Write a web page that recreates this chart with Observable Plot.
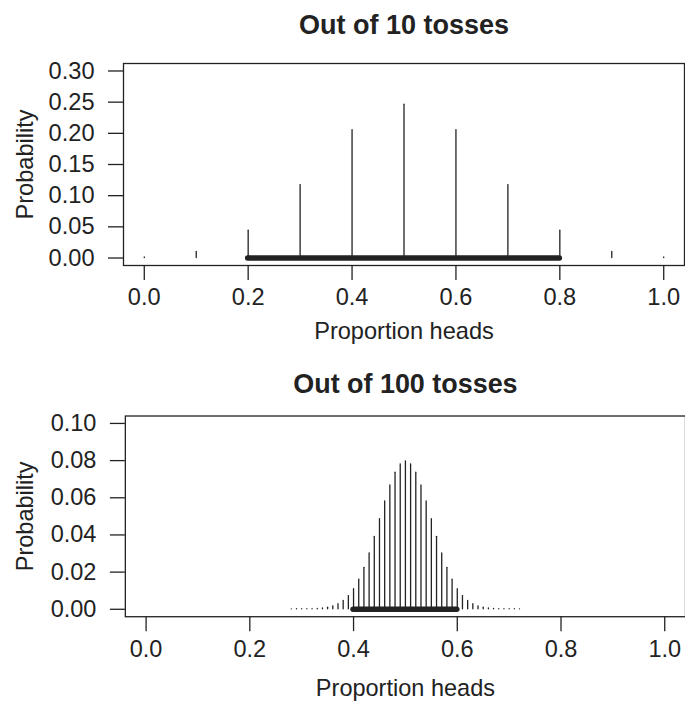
<!DOCTYPE html>
<html>
<head>
<meta charset="utf-8">
<script src="https://cdn.jsdelivr.net/npm/d3@7"></script>
<script src="https://cdn.jsdelivr.net/npm/@observablehq/plot@0.6"></script>
<style>
  html, body { margin: 0; padding: 0; background: #fff; }
  #wrap { position: relative; width: 685px; height: 702px; overflow: hidden; }
  #wrap svg { display: block; }
</style>
</head>
<body>
<div id="wrap"></div>
<script>
// ---- data ----
const title10 = "Out of 10 tosses";
const title100 = "Out of 100 tosses";
const xLabel = "Proportion heads";
const yLabel = "Probability";

const props10 = [0.0, 0.1, 0.2, 0.3, 0.4, 0.5, 0.6, 0.7, 0.8, 0.9, 1.0];
const probs10 = [0.00098, 0.0098, 0.0439, 0.117, 0.205, 0.246, 0.205, 0.117, 0.0439, 0.0098, 0.00098];
const interval10 = [0.2, 0.8];

const props100 = [0.28, 0.29, 0.30, 0.31, 0.32, 0.33, 0.34, 0.35, 0.36, 0.37, 0.38, 0.39,
  0.40, 0.41, 0.42, 0.43, 0.44, 0.45, 0.46, 0.47, 0.48, 0.49, 0.50, 0.51, 0.52, 0.53,
  0.54, 0.55, 0.56, 0.57, 0.58, 0.59, 0.60, 0.61, 0.62, 0.63, 0.64, 0.65, 0.66, 0.67,
  0.68, 0.69, 0.70, 0.71, 0.72];
const probs100 = [0.000004, 0.00001, 0.000023, 0.000054, 0.000116, 0.000237, 0.00046, 0.00087,
  0.00157, 0.0027, 0.00448, 0.00711, 0.0108, 0.0159, 0.0223, 0.0301, 0.039, 0.0485, 0.058,
  0.0666, 0.0735, 0.078, 0.0796, 0.078, 0.0735, 0.0666, 0.058, 0.0485, 0.039, 0.0301, 0.0223,
  0.0159, 0.0108, 0.00711, 0.00448, 0.0027, 0.00157, 0.00087, 0.00046, 0.000237, 0.000116,
  0.000054, 0.000023, 0.00001, 0.000004];
const interval100 = [0.4, 0.6];

const xTicks = [0, 0.2, 0.4, 0.6, 0.8, 1.0];
const yTicks10 = [0, 0.05, 0.10, 0.15, 0.20, 0.25, 0.30];
const yTicks100 = [0, 0.02, 0.04, 0.06, 0.08, 0.10];

// ---- styling ----
const INK = "#222";
const FONT = "'Liberation Sans', Arial, Helvetica, sans-serif";
const TITLE_FONT = "'Liberation Sans Narrow', 'Liberation Sans', Arial, sans-serif";

function panel({props, probs, interval, title, yTicks, yDomain, width, height,
                marginTop, marginBottom, marginLeft, marginRight,
                titleDy, xLabelOffset, yLabelOffset, tickPadX}) {
  const rows = props.map((p, i) => ({x: p, y: probs[i]}));
  return Plot.plot({
    width, height, marginTop, marginBottom, marginLeft, marginRight,
    style: {fontFamily: FONT, fontSize: "24px", color: INK, background: "#fff", overflow: "visible"},
    x: {domain: [-0.04, 1.04]},
    y: {domain: yDomain},
    marks: [
      Plot.frame({stroke: INK, strokeWidth: 1.3}),
      Plot.ruleX(rows, {x: "x", y1: 0, y2: "y", stroke: INK, strokeWidth: 1.3, strokeLinecap: "round"}),
      Plot.ruleY([0], {x1: interval[0], x2: interval[1], stroke: INK, strokeWidth: 5.5, strokeLinecap: "round"}),
      Plot.axisX({ticks: xTicks, tickFormat: d3.format(".1f"), tickSize: 15, tickPadding: tickPadX,
        fontSize: 23.6, strokeWidth: 1.3, label: xLabel, labelAnchor: "center", labelArrow: "none",
        labelOffset: xLabelOffset}),
      Plot.axisY({ticks: yTicks, tickFormat: d3.format(".2f"), tickSize: 15, tickPadding: 14,
        fontSize: 23.6, strokeWidth: 1.3, label: yLabel, labelAnchor: "center", labelArrow: "none",
        labelOffset: yLabelOffset}),
      Plot.text([title], {text: d => d, frameAnchor: "top", lineAnchor: "bottom", dy: titleDy,
        fontSize: 27, fontWeight: "bold", fontFamily: TITLE_FONT, fill: INK})
    ]
  });
}

const wrap = document.getElementById("wrap");
wrap.append(panel({
  props: props10, probs: probs10, interval: interval10, title: title10,
  yTicks: yTicks10, yDomain: [-0.012, 0.312], width: 685, height: 351,
  marginTop: 63, marginBottom: 86, marginLeft: 123, marginRight: 1,
  titleDy: -29.7, xLabelOffset: 73, yLabelOffset: 107, tickPadX: 8.2
}));
wrap.append(panel({
  props: props100, probs: probs100, interval: interval100, title: title100,
  yTicks: yTicks100, yDomain: [-0.004, 0.104], width: 687, height: 351,
  marginTop: 64.7, marginBottom: 85, marginLeft: 125.2, marginRight: 0,
  titleDy: -22.7, xLabelOffset: 79.7, yLabelOffset: 109, tickPadX: 9
}));
</script>
</body>
</html>
